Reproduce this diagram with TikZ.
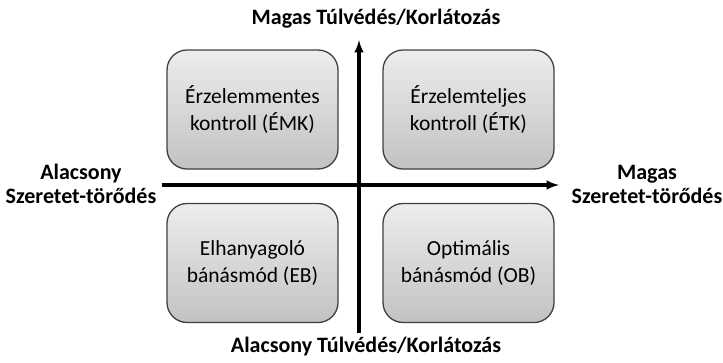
\documentclass[tikz,border=0pt]{standalone}
\usepackage{fontspec}
\setmainfont{Carlito}
\begin{document}
\begin{tikzpicture}[>=latex,x=1pt,y=-1pt,
  quad/.style={draw=black!75,line width=1.3pt,rounded corners=20pt,
    top color=black!7,bottom color=black!24,
    minimum width=171pt,minimum height=119pt,align=center,
    font=\fontsize{21.5}{27}\selectfont},
  axislabel/.style={align=center,font=\bfseries\fontsize{22}{24}\selectfont},
  axis/.style={->,line width=3.2pt}]
\useasboundingbox (0,0) rectangle (723,362);
% Achsenendpunkte
\coordinate (xl) at (162,185);
\coordinate (xr) at (559,185);
\coordinate (yb) at (359,333);
\coordinate (yt) at (359,40);
% Quadranten
\node[quad] (emk) at (252.5,109.5) {Érzelemmentes\\kontroll (ÉMK)};
\node[quad] (etk) at (468.5,109.5) {Érzelemteljes\\kontroll (ÉTK)};
\node[quad] (eb)  at (252.5,263)   {Elhanyagoló\\bánásmód (EB)};
\node[quad] (ob)  at (468.5,263)   {Optimális\\bánásmód (OB)};
% Achsen
\draw[axis] (xl) -- (xr);
\draw[axis] (yb) -- (yt);
% Beschriftungen
\node[axislabel] (top)   at (376,19)  {Magas Túlvédés/Korlátozás};
\node[axislabel] (bot)   at (366,347) {Alacsony Túlvédés/Korlátozás};
\node[axislabel] (left)  at (81,184)  {Alacsony\\Szeretet-törődés};
\node[axislabel] (right) at (647,184) {Magas\\Szeretet-törődés};
\end{tikzpicture}
\end{document}
